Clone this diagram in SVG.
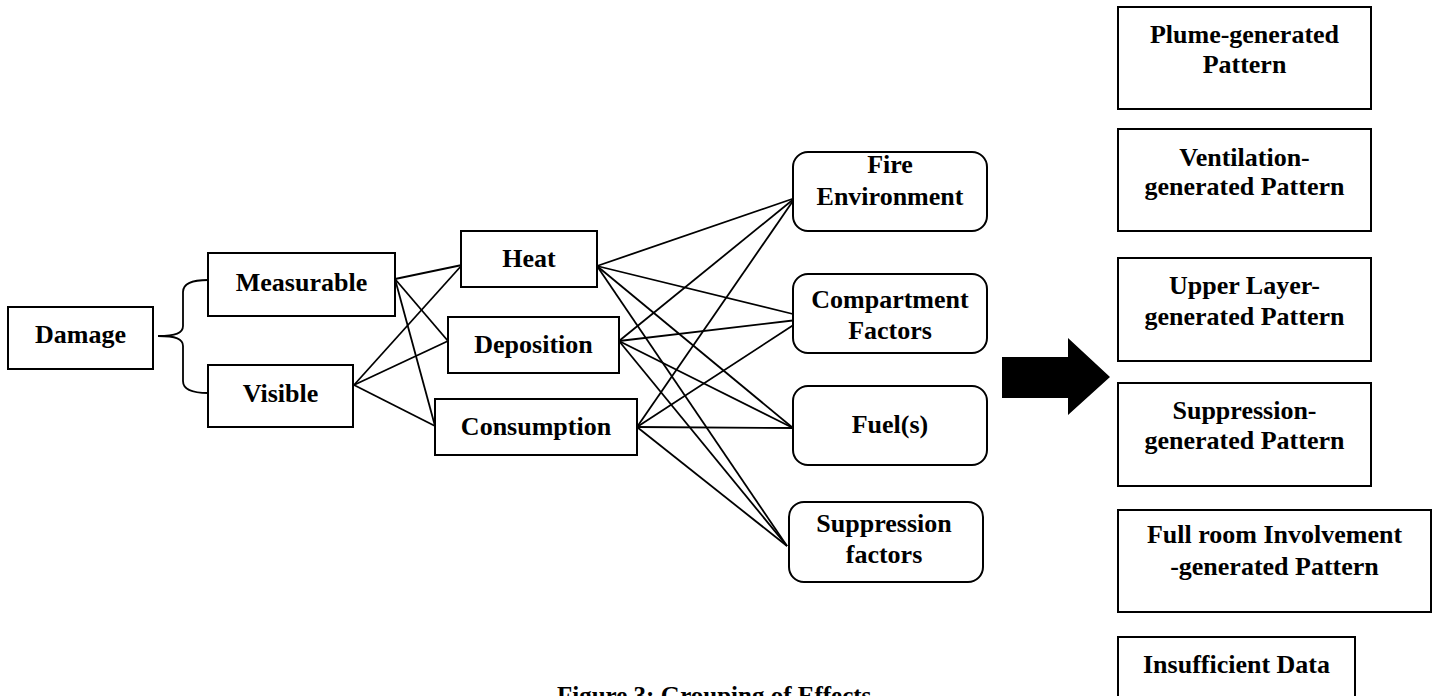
<svg xmlns="http://www.w3.org/2000/svg" width="1434" height="696" viewBox="0 0 1434 696">
<style>
.box{fill:#fff;stroke:#000;stroke-width:2}
.t{font-family:"Liberation Serif","Times New Roman",serif;font-weight:bold;font-size:26px;fill:#000;text-anchor:middle}
.cap{font-family:"Liberation Serif","Times New Roman",serif;font-weight:bold;font-size:25px;fill:#000}
.c line{stroke:#000;stroke-width:1.8}
</style>
<rect width="1434" height="696" fill="#fff"/>
<g id="connectors" class="c">
<path d="M208,280 C190,280 183,284 183,292 L183,326 C183,333 176,336 158,336 C176,336 183,339 183,346 L183,381 C183,389 190,393 208,393" fill="none" stroke="#000" stroke-width="1.8"/>
<line x1="395" y1="279" x2="462" y2="265"/>
<line x1="395" y1="279" x2="448" y2="341"/>
<line x1="395" y1="279" x2="435" y2="426"/>
<line x1="354" y1="385" x2="462" y2="265"/>
<line x1="354" y1="385" x2="448" y2="341"/>
<line x1="354" y1="385" x2="435" y2="426"/>
<line x1="597" y1="266" x2="795" y2="198"/>
<line x1="597" y1="266" x2="797" y2="315"/>
<line x1="597" y1="266" x2="793" y2="428"/>
<line x1="597" y1="266" x2="787" y2="546"/>
<line x1="619" y1="341" x2="795" y2="198"/>
<line x1="619" y1="341" x2="797" y2="320"/>
<line x1="619" y1="341" x2="793" y2="428"/>
<line x1="619" y1="341" x2="787" y2="546"/>
<line x1="637" y1="427" x2="795" y2="198"/>
<line x1="637" y1="427" x2="795" y2="324"/>
<line x1="637" y1="427" x2="793" y2="428"/>
<line x1="637" y1="427" x2="787" y2="546"/>
</g>
<g id="damage"><rect class="box" x="8" y="307" width="145" height="62"/><text class="t" x="80.5" y="343">Damage</text></g>
<g id="measurable"><rect class="box" x="208" y="253" width="187" height="63"/><text class="t" x="301.5" y="291">Measurable</text></g>
<g id="visible"><rect class="box" x="208" y="365" width="145" height="62"/><text class="t" x="280.5" y="402">Visible</text></g>
<g id="heat"><rect class="box" x="461" y="231" width="136" height="56"/><text class="t" x="529" y="267">Heat</text></g>
<g id="deposition"><rect class="box" x="448" y="317" width="171" height="56"/><text class="t" x="533.5" y="353">Deposition</text></g>
<g id="consumption"><rect class="box" x="435" y="399" width="202" height="56"/><text class="t" x="536" y="435">Consumption</text></g>
<g id="fire-environment"><rect class="box" x="793" y="152" width="194" height="79" rx="15"/><text class="t" x="890" y="173">Fire</text><text class="t" x="890" y="205">Environment</text></g>
<g id="compartment-factors"><rect class="box" x="793" y="274" width="194" height="79" rx="15"/><text class="t" x="890" y="308">Compartment</text><text class="t" x="890" y="339">Factors</text></g>
<g id="fuels"><rect class="box" x="793" y="386" width="194" height="79" rx="15"/><text class="t" x="890" y="433">Fuel(s)</text></g>
<g id="suppression-factors"><rect class="box" x="789" y="502" width="194" height="80" rx="15"/><text class="t" x="884" y="532">Suppression</text><text class="t" x="884" y="563">factors</text></g>
<g id="big-arrow"><polygon points="1002,357 1068,357 1068,338 1110,377 1068,415 1068,398 1002,398" fill="#000"/></g>
<g id="plume"><rect class="box" x="1118" y="7" width="253" height="102"/><text class="t" x="1244.5" y="43">Plume-generated</text><text class="t" x="1244.5" y="73">Pattern</text></g>
<g id="ventilation"><rect class="box" x="1118" y="129" width="253" height="102"/><text class="t" x="1244.5" y="166">Ventilation-</text><text class="t" x="1244.5" y="195">generated Pattern</text></g>
<g id="upper-layer"><rect class="box" x="1118" y="258" width="253" height="103"/><text class="t" x="1244.5" y="294">Upper Layer-</text><text class="t" x="1244.5" y="325">generated Pattern</text></g>
<g id="suppression-generated"><rect class="box" x="1118" y="383" width="253" height="103"/><text class="t" x="1244.5" y="419">Suppression-</text><text class="t" x="1244.5" y="449">generated Pattern</text></g>
<g id="full-room"><rect class="box" x="1118" y="510" width="313" height="102"/><text class="t" x="1274.5" y="543">Full room Involvement</text><text class="t" x="1274.5" y="575">-generated Pattern</text></g>
<g id="insufficient"><rect class="box" x="1118" y="637" width="237" height="90"/><text class="t" x="1236.5" y="673">Insufficient Data</text></g>
<text class="cap" x="557" y="704">Figure 3: Grouping of Effects</text>
</svg>
